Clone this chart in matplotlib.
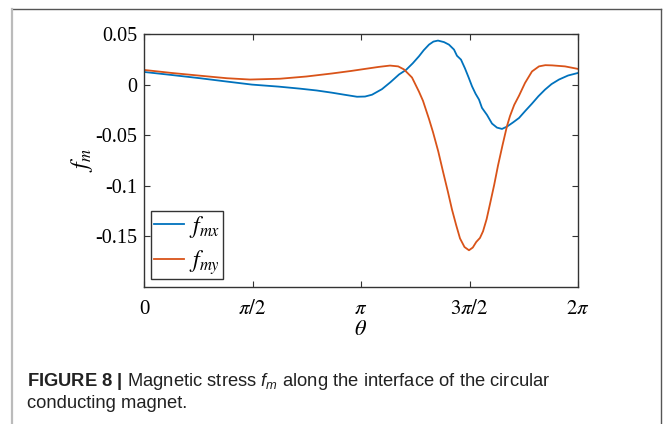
import numpy as np
import matplotlib
matplotlib.use("Agg")
import matplotlib.pyplot as plt
from matplotlib.lines import Line2D

# theta (rad) and values
theta_mx = [0.0, 0.40, 0.811, 1.20, 1.563, 1.95, 2.258, 2.50, 2.722, 2.90, 3.084,
            3.20, 3.301, 3.445, 3.57, 3.692, 3.793, 3.89, 3.981, 4.05, 4.126, 4.19,
            4.256, 4.343, 4.415, 4.488, 4.531, 4.589, 4.647, 4.70, 4.749, 4.80,
            4.850, 4.893, 4.966, 5.038, 5.110, 5.183, 5.255, 5.34, 5.429, 5.52,
            5.617, 5.71, 5.805, 5.90, 6.008, 6.14, 6.283]
f_mx = [0.0125, 0.0095, 0.0063, 0.003, 0.0, -0.002, -0.004, -0.0058, -0.008, -0.010, -0.012,
        -0.0118, -0.0100, -0.0045, 0.0025, 0.010, 0.0145, 0.021, 0.028, 0.034, 0.0395, 0.0425,
        0.0435, 0.042, 0.0395, 0.0346, 0.0285, 0.0247, 0.016, 0.007, -0.0017, -0.009,
        -0.0148, -0.0230, -0.0300, -0.0385, -0.0425, -0.0438, -0.0415, -0.0375, -0.033, -0.026,
        -0.0188, -0.0115, -0.005, 0.0005, 0.005, 0.009, 0.0115]

theta_my = [0.0, 0.40, 0.811, 1.20, 1.535, 1.969, 2.35, 2.722, 3.00, 3.199, 3.40, 3.561,
            3.68, 3.764, 3.880, 3.981, 4.039, 4.126, 4.184, 4.26, 4.329, 4.40, 4.459,
            4.52, 4.575, 4.64, 4.705, 4.76, 4.81, 4.864, 4.908, 4.96, 5.009, 5.07, 5.125,
            5.19, 5.255, 5.299, 5.36, 5.429, 5.516, 5.617, 5.718, 5.81, 5.907, 6.095,
            6.283]
f_my = [0.0145, 0.0115, 0.0088, 0.0063, 0.005, 0.0058, 0.0080, 0.011, 0.0135, 0.0155, 0.0175, 0.0188,
        0.0180, 0.0150, 0.0070, -0.0070, -0.0160, -0.0340, -0.0470, -0.0660, -0.0860, -0.1060, -0.1235,
        -0.1390, -0.1520, -0.1605, -0.1637, -0.1610, -0.1555, -0.1515, -0.1450, -0.1330, -0.1180, -0.0990, -0.0800,
        -0.0600, -0.0410, -0.0310, -0.0200, -0.0110, 0.0016, 0.0130, 0.0180, 0.0192, 0.0190, 0.0180,
        0.0155]

xtick_vals = [0, np.pi / 2, np.pi, 3 * np.pi / 2, 2 * np.pi]
xtick_labels = ["0", r"$\pi/2$", r"$\pi$", r"$3\pi/2$", r"$2\pi$"]
ytick_vals = [0.05, 0, -0.05, -0.1, -0.15]
ytick_labels = ["0.05", "0", "-0.05", "-0.1", "-0.15"]

plt.rcParams['font.family'] = ['Liberation Serif', 'DejaVu Serif']
plt.rcParams['mathtext.fontset'] = 'stix'
plt.rcParams['mathtext.rm'] = 'Liberation Sans'
plt.rcParams['mathtext.it'] = 'Liberation Sans:italic'
plt.rcParams['mathtext.bf'] = 'Liberation Sans:bold'

fig = plt.figure(figsize=(6.64, 4.24), dpi=100)
ax = fig.add_axes([144 / 664, 1 - 287 / 424, 434 / 664, 253 / 424])

ax.plot(theta_mx, f_mx, color='#0072BD', lw=1.3, label=r'$f_{mx}$')
ax.plot(theta_my, f_my, color='#D95319', lw=1.3, label=r'$f_{my}$')

ax.set_xlim(0, 2 * np.pi)
ax.set_ylim(-0.2, 0.05)
ax.set_xticks(xtick_vals)
ax.set_xticklabels(xtick_labels, fontsize=15)
ax.set_yticks(ytick_vals)
ax.set_yticklabels(ytick_labels, fontsize=14.5)
ax.tick_params(direction='in', length=4, width=0.8, color='#333333',
               top=True, right=True)
ax.tick_params(axis='x', pad=9)
ax.tick_params(axis='y', pad=5)
for s in ax.spines.values():
    s.set_color('#333333')
    s.set_linewidth(1.0)

ax.set_xlabel(r'$\theta$', fontsize=16, labelpad=2)
ax.set_ylabel(r'$f_m$', fontsize=17, labelpad=0)

leg = ax.legend(loc='lower left', bbox_to_anchor=(0.016, 0.03), fontsize=17,
                handlelength=1.3, handletextpad=0.2, labelspacing=0.35,
                borderpad=0.12, borderaxespad=0, fancybox=False, framealpha=1)
leg.get_frame().set_edgecolor('#333333')
leg.get_frame().set_linewidth(1.0)

# caption
fig.text(27 / 664, 1 - 382 / 424,
         r"$\mathbf{FIGURE\ 8\ |}$ Magnetic stress $f_m$ along the interface of the circular",
         family='Liberation Sans', fontsize=13.2, va='center', ha='left',
         math_fontfamily='custom', color='#222222')
fig.text(27 / 664, 1 - 403 / 424, "conducting magnet.",
         family='Liberation Sans', fontsize=13.2, va='center', ha='left', color='#222222')

# outer frame
fig.add_artist(Line2D([12 / 664, 661 / 664], [1 - 9 / 424, 1 - 9 / 424],
                      transform=fig.transFigure, color='#555555', lw=1.0))
fig.add_artist(Line2D([12 / 664, 12 / 664], [0, 1 - 9 / 424],
                      transform=fig.transFigure, color='#bbbbbb', lw=1.6))
fig.add_artist(Line2D([661 / 664, 661 / 664], [0, 1 - 9 / 424],
                      transform=fig.transFigure, color='#555555', lw=1.0))

fig.savefig('out.png', dpi=100)
